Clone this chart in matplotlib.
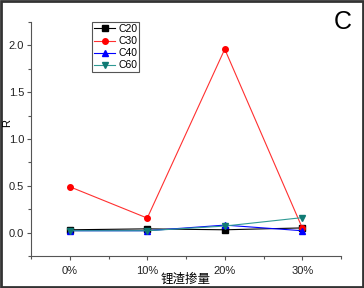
import matplotlib
matplotlib.use("Agg")
import matplotlib.pyplot as plt
from matplotlib.ticker import MultipleLocator
from matplotlib.patches import Rectangle

plt.rcParams['font.family'] = ['Liberation Sans', 'Noto Sans CJK SC', 'DejaVu Sans']

categories = ['0%', '10%', '20%', '30%']
c20 = [0.03, 0.04, 0.03, 0.05]
c30 = [0.49, 0.155, 1.96, 0.05]
c40 = [0.02, 0.02, 0.08, 0.02]
c60 = [0.02, 0.02, 0.07, 0.16]

fig = plt.figure(figsize=(3.64, 2.88), dpi=100)
ax = fig.add_axes([31/364, 1-256/288, (341-31)/364, (256-22)/288])
x = list(range(len(categories)))

ax.plot(x, c20, color='black', marker='s', ms=4, lw=0.8, label='C20')
ax.plot(x, c30, color='#ff3030', marker='o', ms=4, lw=0.8, label='C30', mfc='red', mec='red')
ax.plot(x, c40, color='blue', marker='^', ms=4.5, lw=0.8, label='C40')
ax.plot(x, c60, color='#2f9a94', marker='v', ms=4.5, lw=0.8, label='C60', mfc='#107a74', mec='#107a74')

ax.set_xlim(-0.5, 3.5)
ax.set_ylim(-0.25, 2.25)
ax.set_xticks(x)
ax.set_xticklabels(categories)
ax.xaxis.set_minor_locator(MultipleLocator(0.5))
ax.yaxis.set_minor_locator(MultipleLocator(0.25))
ax.set_yticks([0.0, 0.5, 1.0, 1.5, 2.0])
ax.set_yticklabels(['0.0', '0.5', '1.0', '1.5', '2.0'])
for s in ['top', 'right']:
    ax.spines[s].set_visible(False)
for s in ['left', 'bottom']:
    ax.spines[s].set_color('#555555')
    ax.spines[s].set_linewidth(0.8)
ax.tick_params(which='major', direction='out', length=3, width=0.8, colors='#555555', labelsize=8, labelcolor='#222222', pad=2)
ax.tick_params(which='minor', direction='out', length=2, width=0.8, colors='#555555')
ax.tick_params(axis='x', pad=4)

fig.text(186/364, 1-279/288, '锂渣掺量', fontsize=9, family=['Noto Sans CJK SC', 'DejaVu Sans'],
         ha='center', va='center')
fig.text(7/364, 1-123/288, 'R', rotation=90, fontsize=8, ha='center', va='center')

leg = ax.legend(loc='upper left', bbox_to_anchor=((92-31)/310, 1.0), fontsize=7.5,
                frameon=True, fancybox=False, edgecolor='#555555', framealpha=1,
                handlelength=2.0, borderpad=0.2, labelspacing=0.2, handletextpad=0.3,
                borderaxespad=0)
leg.get_frame().set_linewidth(0.8)

fig.text(343/364, 1-22/288, 'C', fontsize=18, ha='center', va='center')

fig.patches.append(Rectangle((0.003, 0.004), 0.994, 0.992, transform=fig.transFigure,
                             fill=False, edgecolor='#333333', linewidth=2))

fig.savefig('out.png', dpi=100)
